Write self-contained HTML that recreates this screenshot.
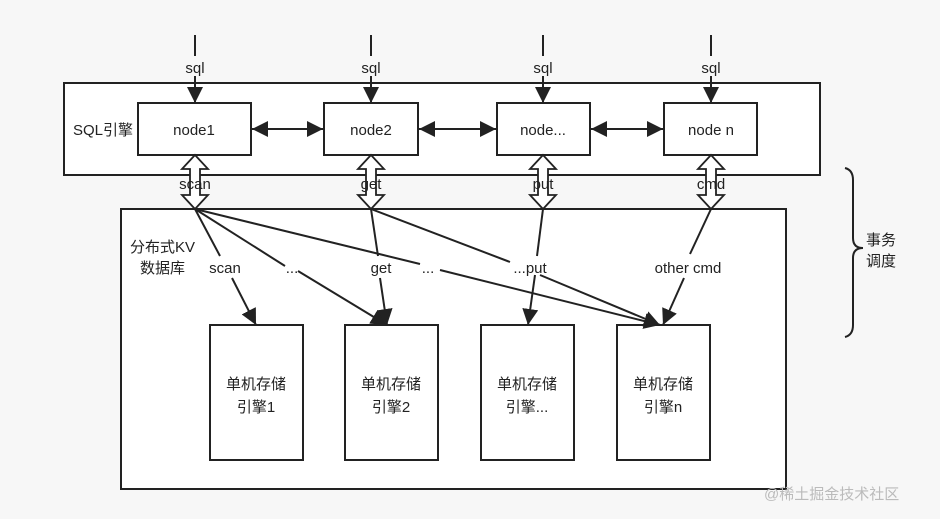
<!DOCTYPE html>
<html><head><meta charset="utf-8"><style>
html,body{margin:0;padding:0;background:#f7f7f7;}
svg{display:block}
text{font-family:"Liberation Sans","Noto Sans CJK SC",sans-serif;fill:#222;font-size:15px}
</style></head><body>
<svg width="940" height="519" viewBox="0 0 940 519" xmlns="http://www.w3.org/2000/svg">
<defs>
<marker id="a" viewBox="0 0 10 10" refX="10" refY="5" markerWidth="8" markerHeight="8" orient="auto-start-reverse"><path d="M0,0 L10,5 L0,10 z" fill="#222"/></marker>
</defs>
<g stroke="#222" stroke-width="2" fill="#fff">
<rect x="64" y="83" width="756" height="92"/>
<rect x="121" y="209" width="665" height="280"/>
<rect x="138" y="103" width="113" height="52"/>
<rect x="324" y="103" width="94" height="52"/>
<rect x="497" y="103" width="93" height="52"/>
<rect x="664" y="103" width="93" height="52"/>
<rect x="210" y="325" width="93" height="135"/>
<rect x="345" y="325" width="93" height="135"/>
<rect x="481" y="325" width="93" height="135"/>
<rect x="617" y="325" width="93" height="135"/>
</g>
<g stroke="#222" stroke-width="2" fill="none">
<line x1="195" y1="35" x2="195" y2="56"/><line x1="195" y1="76" x2="195" y2="103" marker-end="url(#a)"/>
<line x1="371" y1="35" x2="371" y2="56"/><line x1="371" y1="76" x2="371" y2="103" marker-end="url(#a)"/>
<line x1="543" y1="35" x2="543" y2="56"/><line x1="543" y1="76" x2="543" y2="103" marker-end="url(#a)"/>
<line x1="711" y1="35" x2="711" y2="56"/><line x1="711" y1="76" x2="711" y2="103" marker-end="url(#a)"/>
<line x1="252" y1="129" x2="323" y2="129" marker-start="url(#a)" marker-end="url(#a)"/>
<line x1="419" y1="129" x2="496" y2="129" marker-start="url(#a)" marker-end="url(#a)"/>
<line x1="591" y1="129" x2="663" y2="129" marker-start="url(#a)" marker-end="url(#a)"/>
<line x1="195" y1="209" x2="220" y2="256"/><line x1="232" y1="278" x2="256" y2="325" marker-end="url(#a)"/>
<line x1="195" y1="209" x2="285" y2="266"/><line x1="298" y1="271" x2="387" y2="325" marker-end="url(#a)"/>
<line x1="195" y1="209" x2="420" y2="264"/><line x1="440" y1="270" x2="660" y2="325" marker-end="url(#a)"/>
<line x1="371" y1="209" x2="378" y2="256"/><line x1="380" y1="278" x2="387" y2="325" marker-end="url(#a)"/>
<line x1="371" y1="209" x2="510" y2="262"/><line x1="540" y1="275" x2="660" y2="325" marker-end="url(#a)"/>
<line x1="543" y1="209" x2="537" y2="256"/><line x1="535" y1="275" x2="528" y2="325" marker-end="url(#a)"/>
<line x1="711" y1="209" x2="690" y2="254"/><line x1="684" y1="278" x2="663" y2="325" marker-end="url(#a)"/>
<path d="M845,168 Q853,170 853,180 L853,238 Q853,248 863,248 Q853,248 853,258 L853,325 Q853,335 845,337"/>
</g>
<g stroke="#222" stroke-width="1.8" fill="#fff">
<path d="M195,155 L208,169 L200,169 L200,195 L208,195 L195,209 L182,195 L190,195 L190,169 L182,169 Z"/>
<path d="M371,155 L384,169 L376,169 L376,195 L384,195 L371,209 L358,195 L366,195 L366,169 L358,169 Z"/>
<path d="M543,155 L556,169 L548,169 L548,195 L556,195 L543,209 L530,195 L538,195 L538,169 L530,169 Z"/>
<path d="M711,155 L724,169 L716,169 L716,195 L724,195 L711,209 L698,195 L706,195 L706,169 L698,169 Z"/>
</g>
<g text-anchor="middle">
<text x="195" y="73">sql</text><text x="371" y="73">sql</text><text x="543" y="73">sql</text><text x="711" y="73">sql</text>
<text x="194" y="135">node1</text><text x="371" y="135">node2</text><text x="543" y="135">node...</text><text x="711" y="135">node n</text>
<text x="195" y="189">scan</text><text x="371" y="189">get</text><text x="543" y="189">put</text><text x="711" y="189">cmd</text>
<text x="225" y="273">scan</text><text x="292" y="273">...</text><text x="381" y="273">get</text><text x="428" y="273">...</text><text x="530" y="273">...put</text><text x="688" y="273">other cmd</text>
<text x="256" y="389">单机存储</text><text x="256" y="412">引擎1</text>
<text x="391" y="389">单机存储</text><text x="391" y="412">引擎2</text>
<text x="527" y="389">单机存储</text><text x="527" y="412">引擎...</text>
<text x="663" y="389">单机存储</text><text x="663" y="412">引擎n</text>
</g>
<text x="73" y="135">SQL引擎</text>
<text x="130" y="252">分布式KV</text>
<text x="140" y="273">数据库</text>
<text x="866" y="245">事务</text>
<text x="866" y="266">调度</text>
<text x="764" y="499" style="fill:#bbb;font-size:15px">@稀土掘金技术社区</text>
</svg>
</body></html>
